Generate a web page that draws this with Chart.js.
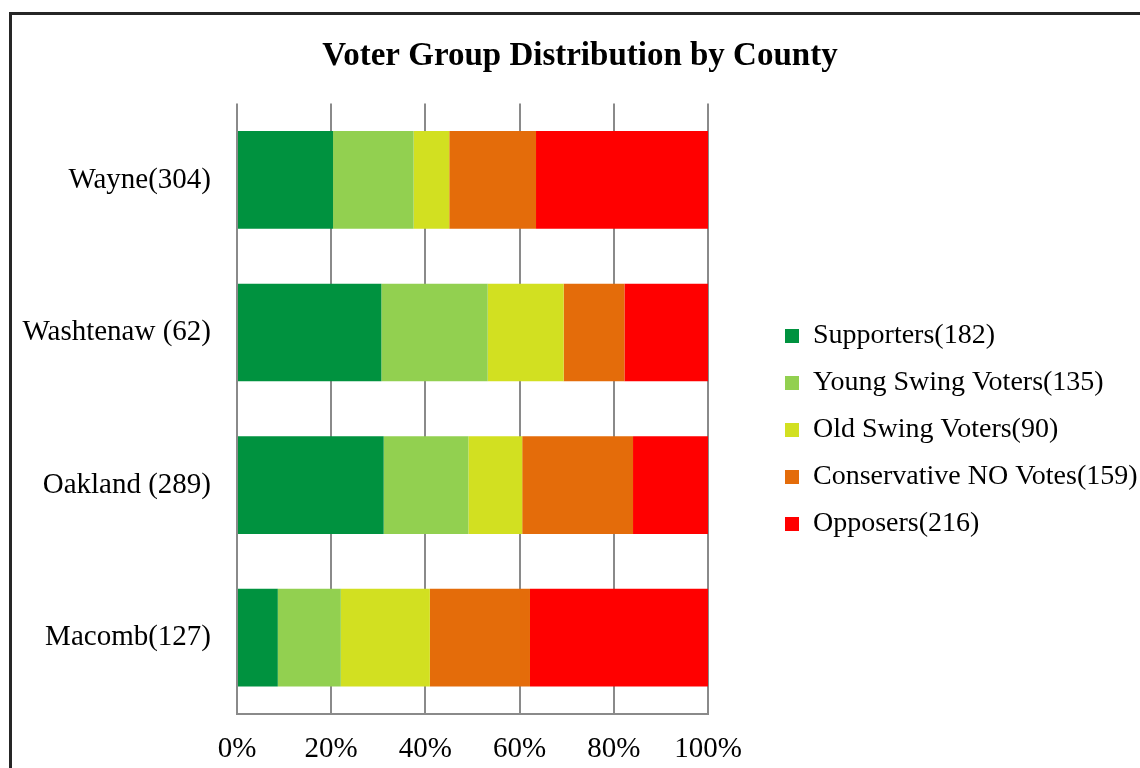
<!DOCTYPE html>
<html>
<head>
<meta charset="utf-8">
<style>
  html, body { margin: 0; padding: 0; background: #fff; }
  #wrap { width: 1140px; height: 768px; }
</style>
<script src="https://cdn.jsdelivr.net/npm/chart.js@4/dist/chart.umd.min.js"></script>
</head>
<body>
<div id="wrap"><canvas id="Graph" width="1140" height="768"></canvas></div>
<script>
let canvas = document.getElementById("Graph");

const counties = ['Wayne(304)', 'Washtenaw (62)', 'Oakland (289)', 'Macomb(127)'];
const groups = ['Supporters', 'Young Swing Voters', 'Old Swing Voters', 'Conservative NO Votes', 'Opposers'];
const colors = ['#00923F', '#92D050', '#D2E021', '#E46C0A', '#FF0000'];

// voter counts per county, one array per group
const supporters = [62, 19, 90, 11];
const youngSwing = [52, 14, 52, 17];
const oldSwing = [23, 10, 33, 24];
const conservativeNo = [56, 8, 68, 27];
const opposers = [111, 11, 46, 48];

const counts = [supporters, youngSwing, oldSwing, conservativeNo, opposers];
const countyTotals = counties.map((c, i) => counts.reduce((s, arr) => s + arr[i], 0));

const font = "'Liberation Serif', 'Times New Roman', serif";
const gridColor = '#8a8a8a';

// outer frame round the whole chart
const frame = {
  id: 'frame',
  beforeDraw(chart) {
    const c = chart.ctx;
    c.save();
    c.fillStyle = '#fff';
    c.fillRect(0, 0, chart.width, chart.height);
    c.strokeStyle = '#262626';
    c.lineWidth = 3;
    c.strokeRect(10.5, 13.5, 1300, 900);
    c.restore();
  }
};

// fixed legend column width, entries moved right/down inside it
const legendBox = {
  id: 'legendBox',
  beforeLayout(chart) {
    const lg = chart.legend;
    if (!lg._patched) {
      const fit = lg.fit;
      lg.fit = function () {
        fit.call(this);
        this.width = 432;
      };
      lg._patched = true;
    }
  },
  afterLayout(chart) {
    const lg = chart.legend;
    lg.left += 58;
    lg.right += 58;
    lg.top += 46;
    lg.bottom += 46;
  }
};

const data = {
  labels: counties,
  datasets: groups.map((g, k) => ({
    label: g + '(' + counts[k].reduce((a, b) => a + b, 0) + ')',
    data: counts[k].map((v, i) => v / countyTotals[i] * 100),
    backgroundColor: colors[k],
    borderWidth: 0,
    barPercentage: 0.64,
    categoryPercentage: 1
  }))
};

const config = {
  type: 'bar',
  data: data,
  options: {
    responsive: false,
    animation: false,
    indexAxis: 'y',
    layout: { padding: { left: 20, right: 0, top: 0, bottom: 0 } },
    plugins: {
      title: {
        display: true,
        text: 'Voter Group Distribution by County',
        color: '#000',
        font: { family: font, size: 33, weight: 'bold' },
        padding: { top: 37, bottom: 27 }
      },
      legend: {
        position: 'right',
        labels: {
          color: '#000',
          font: { family: font, size: 28 },
          boxWidth: 14,
          boxHeight: 14,
          padding: 19
        }
      },
      tooltip: { enabled: false }
    },
    scales: {
      x: {
        stacked: true,
        min: 0,
        max: 100,
        ticks: {
          stepSize: 20,
          color: '#000',
          font: { family: font, size: 29 },
          padding: 18,
          callback: v => v + '%'
        },
        grid: { color: gridColor, lineWidth: 2, drawTicks: false },
        border: { color: gridColor, width: 2 },
        afterFit(scale) { scale.height = 54; }
      },
      y: {
        stacked: true,
        ticks: {
          color: '#000',
          font: { family: font, size: 29 },
          padding: 26
        },
        grid: { display: false, drawTicks: false },
        border: { display: false },
        afterFit(scale) { scale.width = 217; }
      }
    }
  },
  plugins: [frame, legendBox]
};

const chart = new Chart(canvas, config);
</script>
</body>
</html>
